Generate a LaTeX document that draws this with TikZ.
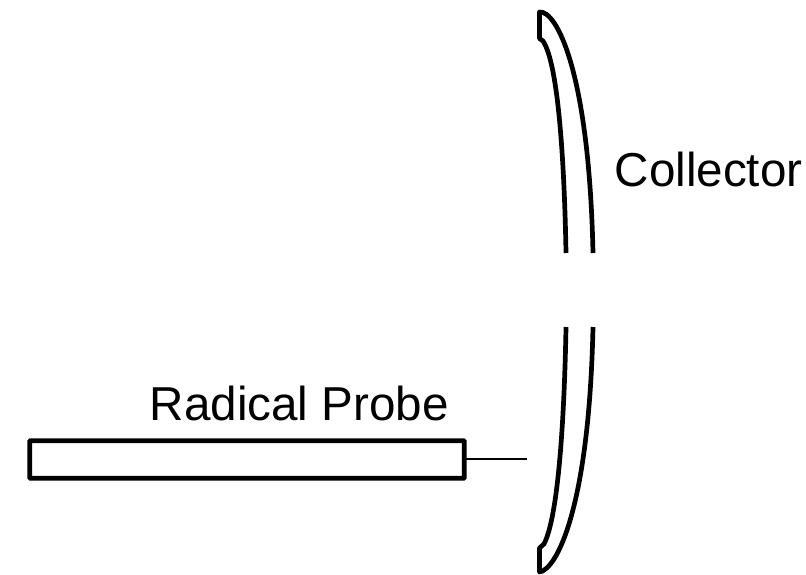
\documentclass[tikz,border=0pt]{standalone}
\usepackage{fontspec}
\setmainfont{Liberation Sans}
\begin{document}
\begin{tikzpicture}[x=1pt,y=-1pt,
  shell/.style={line width=4.7pt,line join=round,black,fill=none},
  probebox/.style={draw,line width=4.7pt,rounded corners=0.6pt,minimum width=434.5pt,minimum height=37.5pt,inner sep=0pt,outer sep=0pt},
  lbl/.style={inner sep=0pt,font=\fontsize{47.6}{56}\selectfont,anchor=base west},
  stem/.style={line width=1.4pt}]
\useasboundingbox (0,0) rectangle (806,574);
\draw[shell] (566,253) .. controls (564.5,170) and (559,65) .. (543,41) -- (539.5,38.5) -- (539.5,12) .. controls (556,10) and (589,70) .. (593,253);
\draw[shell] (566,327) .. controls (564.5,410) and (559,515) .. (544,544) -- (539.5,548) -- (539.5,572) .. controls (556,570) and (589,510) .. (593,327);
\node[probebox] (probe) at (247,459.5) {};
\coordinate (stemend) at (527,459);
\draw[stem] (probe.east |- stemend) -- (stemend);
\node[lbl] (collector) at (614.5,186) {Collector};
\node[lbl] (radical) at (149.5,420) {Radical Probe};
\end{tikzpicture}
\end{document}
